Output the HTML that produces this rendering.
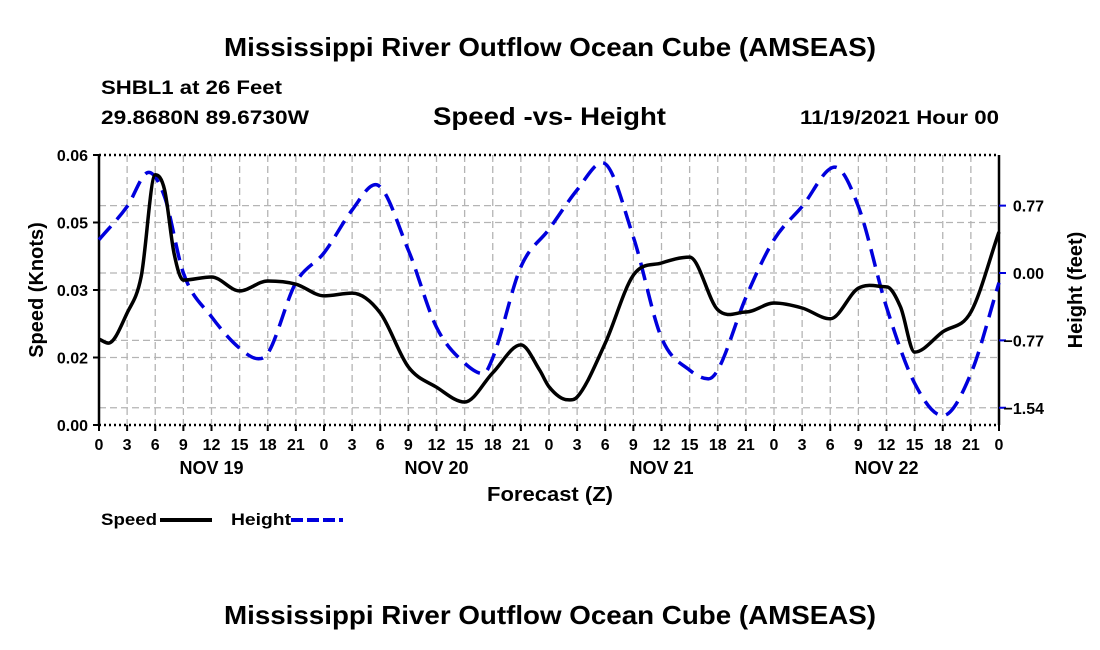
<!DOCTYPE html>
<html><head><meta charset="utf-8"><style>
body{margin:0;background:#fff}
svg{display:block;font-family:"Liberation Sans",Arial,sans-serif;font-weight:bold}
</style></head><body>
<svg id="chart" width="1100" height="650" viewBox="0 0 1100 650">
<text x="550" y="56" font-size="26" text-anchor="middle" textLength="652" lengthAdjust="spacingAndGlyphs">Mississippi River Outflow Ocean Cube (AMSEAS)</text>
<text x="101" y="94" font-size="19" textLength="181" lengthAdjust="spacingAndGlyphs">SHBL1 at 26 Feet</text>
<text x="101" y="124" font-size="19" textLength="208" lengthAdjust="spacingAndGlyphs">29.8680N  89.6730W</text>
<text x="433" y="125" font-size="25" textLength="233" lengthAdjust="spacingAndGlyphs">Speed -vs- Height</text>
<text x="800" y="124" font-size="19" textLength="199" lengthAdjust="spacingAndGlyphs">11/19/2021 Hour 00</text>
<g id="grid"></g>
<g id="axes"></g>
<g id="series"></g>
<text transform="translate(43,290) rotate(-90)" font-size="20" text-anchor="middle">Speed (Knots)</text>
<text transform="translate(1082,290) rotate(-90)" font-size="20" text-anchor="middle">Height (feet)</text>
<text x="487" y="501" font-size="20" textLength="126" lengthAdjust="spacingAndGlyphs">Forecast (Z)</text>
<g>
<text x="101" y="525" font-size="17" textLength="56" lengthAdjust="spacingAndGlyphs">Speed</text>
<line x1="160" y1="520" x2="212" y2="520" stroke="#000" stroke-width="4"/>
<text x="231" y="525" font-size="17" textLength="60" lengthAdjust="spacingAndGlyphs">Height</text>
<line x1="291" y1="520" x2="343" y2="520" stroke="#0000dd" stroke-width="4" stroke-dasharray="12,4"/>
</g>
<text x="550" y="624" font-size="26" text-anchor="middle" textLength="652" lengthAdjust="spacingAndGlyphs">Mississippi River Outflow Ocean Cube (AMSEAS)</text>
</svg>
<script>
const speedHours=[0,1,3,4.5,6,7,8,9,12,15,18,21,24,27,30,33,36,39,42,45,47,48,50,51,54,57,60,63,66,69,72,75,78,81,84,85.5,87,90,93,96];
const speedValues=[0.0191,0.0182,0.0249,0.0330,0.0556,0.0522,0.0382,0.0322,0.0329,0.0298,0.032,0.0313,0.0287,0.0293,0.0249,0.0129,0.0084,0.0051,0.0116,0.0178,0.0122,0.0085,0.0056,0.0062,0.0182,0.0333,0.036,0.0373,0.0256,0.0251,0.0271,0.026,0.0236,0.0304,0.0307,0.0262,0.0162,0.0207,0.0251,0.0429];
const heightHours=[0,3,5.3,7,9,12,15,17,18,21,24,27,29.5,33,36,39,41,42,45,48,51,53.7,57,60,63,65,66,69,72,75,78.5,81,84,87,90,93,96];
const heightValues=[0.38,0.76,1.15,0.87,0.0,-0.5,-0.86,-0.98,-0.92,-0.11,0.23,0.72,1.01,0.26,-0.62,-1.03,-1.15,-0.97,0.07,0.5,0.95,1.26,0.41,-0.74,-1.11,-1.21,-1.11,-0.28,0.38,0.76,1.21,0.76,-0.39,-1.26,-1.63,-1.15,-0.11];
const xTickLabels=["0","3","6","9","12","15","18","21"];
const dayLabels=["NOV 19","NOV 20","NOV 21","NOV 22"];
const leftTicks=[0,0.015,0.03,0.045,0.06];
const leftTickLabels=["0.00","0.02","0.03","0.05","0.06"];
const rightTicks=[0.77,0,-0.77,-1.54];
const rightTickLabels=["0.77","0.00","\u22120.77","\u22121.54"];

const L=99,R=999,T=155,B=425;
const xS=h=>L+h*(R-L)/96;
const yS=v=>B-v*(B-T)/0.06;
const yH=v=>273-v*87.5;
const NS="http://www.w3.org/2000/svg";
function mk(tag,attrs,parent){const e=document.createElementNS(NS,tag);for(const k in attrs)e.setAttribute(k,attrs[k]);parent.appendChild(e);return e;}
const grid=document.getElementById('grid'),axes=document.getElementById('axes'),series=document.getElementById('series');
const gs={stroke:"#b4b4b4","stroke-width":1.3,"stroke-dasharray":"7,4"};
for(let h=3;h<96;h+=3){const l=mk('line',Object.assign({x1:xS(h),x2:xS(h),y1:T,y2:B},gs),grid);

}
leftTicks.slice(1,-1).forEach(v=>{const l=mk('line',Object.assign({x1:L,x2:R,y1:yS(v),y2:yS(v)},gs),grid);

});
rightTicks.forEach(v=>{const l=mk('line',Object.assign({x1:L,x2:R,y1:yH(v),y2:yH(v)},gs),grid);

});
[[L,T,L,B,"none"],[R,T,R,B,"none"],[L,T,R,T,"2,3"],[L,B,R,B,"2,3"]].forEach(a=>{const l=mk('line',{x1:a[0],y1:a[1],x2:a[2],y2:a[3],stroke:"#000","stroke-width":2.5,"stroke-dasharray":a[4]},axes);

});
for(let h=0;h<=96;h+=3){const t=mk('line',{x1:xS(h),x2:xS(h),y1:B,y2:B+6,stroke:"#000","stroke-width":2},axes);


const tx=mk('text',{x:xS(h),y:450,"font-size":16,"text-anchor":"middle"},axes);tx.textContent=xTickLabels[(h/3)%8];

}
dayLabels.forEach((d,i)=>{const tx=mk('text',{x:xS(12+24*i),y:474,"font-size":18,"text-anchor":"middle"},axes);tx.textContent=d;

});
leftTicks.forEach((v,i)=>{const t=mk('line',{x1:L-6,x2:L,y1:yS(v),y2:yS(v),stroke:"#000","stroke-width":2},axes);


const tx=mk('text',{x:L-11,y:yS(v)+6,"font-size":16,"text-anchor":"end"},axes);tx.textContent=leftTickLabels[i];

});
rightTicks.forEach((v,i)=>{const t=mk('line',{x1:R,x2:R+7,y1:yH(v),y2:yH(v),stroke:"#0000dd","stroke-width":2},axes);


const tx=mk('text',{x:1044,y:yH(v)+6,"font-size":16,"text-anchor":"end"},axes);tx.textContent=rightTickLabels[i];

});
function smooth(hs,vs,fy){const n=hs.length,m=[];
for(let i=0;i<n;i++){if(i==0)m.push((vs[1]-vs[0])/(hs[1]-hs[0]));else if(i==n-1)m.push((vs[n-1]-vs[n-2])/(hs[n-1]-hs[n-2]));
else{const d0=(vs[i]-vs[i-1])/(hs[i]-hs[i-1]),d1=(vs[i+1]-vs[i])/(hs[i+1]-hs[i]);m.push(d0*d1<=0?0:(d0+d1)/2);}}
let d="M"+xS(hs[0])+","+fy(vs[0]);
for(let i=0;i<n-1;i++){const dt=(hs[i+1]-hs[i])/3;
d+=" C"+xS(hs[i]+dt)+","+fy(vs[i]+m[i]*dt)+" "+xS(hs[i+1]-dt)+","+fy(vs[i+1]-m[i+1]*dt)+" "+xS(hs[i+1])+","+fy(vs[i+1]);}
return d;}
const hp=mk('path',{d:smooth(heightHours,heightValues,yH),fill:"none",stroke:"#0000dd","stroke-width":3.5,"stroke-dasharray":"18,9"},series);


const sp=mk('path',{d:smooth(speedHours,speedValues,yS),fill:"none",stroke:"#000","stroke-width":3.5},series);


</script>
</body></html>
